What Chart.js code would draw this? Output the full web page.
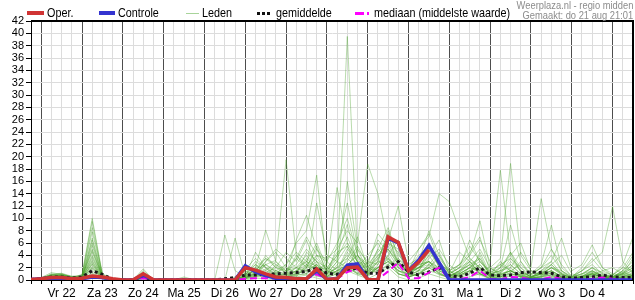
<!DOCTYPE html>
<html>
<head>
<meta charset="utf-8">
<script src="https://cdn.jsdelivr.net/npm/chart.js@4.4.1/dist/chart.umd.min.js"></script>
<style>
  html, body { margin: 0; padding: 0; background: #fff; }
  #wrap { position: relative; width: 635px; height: 300px; overflow: hidden;
          font-family: 'Liberation Sans', Arial, sans-serif; }
  #chart { position: absolute; left: 0; top: 0; }
  .lg { position: absolute; top: 6px; font-size: 13px; line-height: 14px; color: #000; white-space: nowrap;
        transform: scaleX(0.83); transform-origin: 0 50%; }
  .sw { position: absolute; }
  .info { position: absolute; right: 2px; font-size: 11px; line-height: 11px; color: #8c8c8c; white-space: nowrap;
          transform: scaleX(0.85); transform-origin: 100% 0; }
</style>
</head>
<body>
<div id="wrap">
  <canvas id="chart" width="635" height="300"></canvas>

  <!-- legenda -->
  <div class="sw" style="left:27px;top:11px;width:17px;height:4px;background:#d03434"></div>
  <div class="lg" style="left:47px">Oper.</div>
  <div class="sw" style="left:99px;top:11px;width:16px;height:4px;background:#3434d0"></div>
  <div class="lg" style="left:118px">Controle</div>
  <div class="sw" style="left:186px;top:13px;width:13px;height:1px;background:#a8d49a"></div>
  <div class="lg" style="left:202px">Leden</div>
  <div class="sw" style="left:257px;top:12px;width:14px;height:3px;background:repeating-linear-gradient(90deg,#111 0 3px,transparent 3px 5px)"></div>
  <div class="lg" style="left:276px">gemiddelde</div>
  <div class="sw" style="left:355px;top:12px;width:15px;height:3px;background:linear-gradient(90deg,#f0f 0 9px,transparent 9px 12px,#f0f 12px 14px,transparent 14px)"></div>
  <div class="lg" style="left:374px">mediaan (middelste waarde)</div>

  <div class="info" style="top:0px">Weerplaza.nl - regio midden</div>
  <div class="info" style="top:10px">Gemaakt: do 21 aug 21:01</div>
</div>

<script>
// Dagen op de x-as (label op 12:00 van elke dag)
const dagLabels = ['Vr 22', 'Za 23', 'Zo 24', 'Ma 25', 'Di 26', 'Wo 27', 'Do 28',
                   'Vr 29', 'Za 30', 'Zo 31', 'Ma 1', 'Di 2', 'Wo 3', 'Do 4'];

// Neerslag per 6 uur (mm), stap 0 = do 21 18:00
const oper = [0.1,
  0.2,0.4,0.4,0.2,  0.3,0.65,0.5,0.2,  0,0,1.0,0.05,  0,0,0,0,  0,0,0,0,
  2.0,1.6,1.0,0.5,  0.4,0.2,0.2,1.8,  0.1,0.2,2.0,2.1,  0.1,0,7.0,6.1,  1.5,2.9,4.9,null,
  null,null,null,null,  null,null,null,null,  null,null,null,null,  null,null,null,null,
  null,null,null];

const controle = [0.1,
  0.2,0.3,0.3,0.2,  0.2,0.5,0.4,0.1,  0,0,0.8,0,  0,0,0,0,  0,0,0,0,
  2.3,1.3,0.7,0.3,  0.3,0.2,0.2,1.5,  0.1,0.2,2.4,2.6,  0.1,0,6.8,6.0,  1.5,3.2,5.6,2.8,
  0,0,0,0,  0,0,0,0,  0,0,0,0,  0,0,0,0,
  0,0,0];

const gemiddelde = [0.1,
  0.2,0.5,0.5,0.3,  0.5,1.5,0.9,0.1,  0,0,0.5,0,  0,0,0.1,0,  0,0,0.2,0.4,
  0.8,0.8,0.9,1.0,  1.1,1.2,1.4,1.9,  1.1,0.9,1.6,1.9,  1.1,1.1,2.1,3.0,  1.3,0.8,1.3,2.0,
  0.7,0.5,1.1,2.0,  0.8,0.7,0.8,1.2,  1.3,1.2,1.1,0.5,  0.3,0.4,0.5,0.8,
  0.5,0.4,0.4];

const mediaan = [0,
  0.1,0.3,0.3,0.1,  0.2,0.5,0.3,0,  0,0,0.3,0,  0,0,0,0,  0,0,0,0,
  0.2,0.3,0.3,0.2,  0.1,0.1,0.2,0.9,  0.2,0.2,1.3,1.8,  0.1,0.1,1.4,2.8,  0.3,0.3,1.2,2.0,
  0.1,0.1,0.5,1.5,  0.2,0.1,0.5,0.4,  0.1,0.1,0.5,0.2,  0,0.1,0.2,0.4,
  0.2,0.1,0.1];

// Ensembleleden
const leden = [
  [0, 0.2,0.6,0.8,0.3, 0.4,4.5,0.6,0, 0,0,1.2,0, 0,0,0.3,0, 0,0,0,0, 1.2,2.5,1.0,0.8, 0.5,1.5,3.0,2.2, 1.0,3.0,39.5,4.0, 2.0,1.5,3.5,2.0, 0.5,1.0,2.5,1.0, 0.3,0.8,1.5,2.5, 0.5,0.2,0.8,1.0, 0.3,0.5,1.2,0.4, 0,0.2,0.5,0.3, 0.2,0.5,0.8],
  [0, 0.1,0.5,0.9,0.4, 0.6,7.8,0.8,0.1, 0,0,0.6,0, 0,0,0,0, 0,0,0,0, 0.5,1.8,2.5,3.2, 19.5,4.0,2.0,3.5, 1.5,0.8,2.0,1.2, 0.6,2.5,5.0,3.0, 1.2,2.0,4.0,1.5, 0.8,1.2,3.0,1.0, 0.2,0.5,2.0,0.6, 0.4,1.0,0.6,0.2, 0.1,0.3,1.0,0.5, 0.3,1.5,0.6],
  [0, 0.3,0.7,0.6,0.2, 0.3,5.6,0.4,0, 0,0,1.8,0, 0,0,0.5,0, 0,0,0,0, 2.2,1.0,0.5,1.5, 2.5,6.0,8.0,17.0, 2.0,1.2,4.5,2.5, 1.0,3.0,7.5,2.0, 0.8,1.5,5.0,2.2, 0.5,0.3,1.0,4.5, 1.0,0.5,1.2,3.0, 0.5,0.2,0.4,1.0, 0.2,0.5,1.2,0.8, 0.5,0.8,0.3],
  [0, 0,0.3,0.5,0.2, 0.2,2.8,0.3,0, 0,0,0.8,0, 0,0,0,0, 0,0,0,0, 0.8,3.0,2.0,1.5, 1.0,0.5,2.5,4.0, 3.5,5.0,8.0,6.0, 18.8,14.0,6.0,4.5, 1.0,2.5,3.0,1.5, 0.6,1.0,2.0,1.5, 2.0,0.8,1.5,0.6, 0.2,0.4,0.8,0.3, 0,0.4,1.0,0.4, 0.2,0.6,1.0],
  [0, 0.2,0.8,1.0,0.5, 0.5,6.5,0.5,0, 0,0,1.0,0, 0,0,0,0, 0,0,0,0, 0.4,1.2,4.0,2.0, 1.5,3.5,2.0,5.5, 1.0,2.0,3.0,5.5, 2.5,4.5,6.5,12.0, 3.0,5.0,7.0,14.0, 12.7,8.0,3.5,2.0, 0.8,1.5,4.5,1.2, 0.6,1.0,2.0,0.8, 0.4,0.3,0.8,1.5, 2.0,1.0,0.5],
  [0, 0.1,0.4,0.6,0.3, 0.3,3.5,0.5,0, 0,0,0.5,0, 0,0,0,0, 0,0,0,0, 0.6,0.8,1.5,3.0, 1.0,2.0,1.5,2.5, 0.5,1.5,5.0,3.0, 1.5,2.0,4.0,1.0, 0.5,1.0,2.0,3.5, 1.5,2.5,4.0,6.5, 3.0,17.8,4.0,1.5, 0.5,1.0,2.5,1.0, 0.3,0.6,1.5,0.8, 0.4,1.0,2.5],
  [0, 0.2,0.5,0.8,0.6, 0.8,9.5,0.7,0, 0,0,1.5,0, 0,0,0,0, 0,0,0,0, 0.2,2.0,1.0,0.8, 0.4,1.0,4.5,3.0, 2.0,4.0,6.0,3.5, 1.0,3.0,8.0,4.0, 2.5,3.5,6.0,3.0, 1.0,2.0,3.0,5.0, 2.0,3.5,18.9,4.0, 1.5,0.8,1.5,0.6, 0.2,0.5,1.0,0.4, 0.5,0.3,0.8],
  [0, 0.3,0.6,0.5,0.3, 0.2,2.0,0.3,0, 0,0,0.4,0, 0,0,0,0, 0,0,0,0, 1.5,0.8,2.5,1.2, 0.8,2.0,3.0,1.5, 0.5,2.5,3.5,2.0, 4.0,6.0,3.0,1.5, 1.0,2.0,4.5,2.5, 0.5,1.5,2.5,3.5, 1.0,1.5,2.0,4.5, 2.0,13.2,5.0,1.5, 0.5,1.0,2.0,1.2, 0.8,2.0,1.5],
  [0, 0.1,0.3,0.4,0.2, 0.4,4.0,0.6,0, 0,0,0.9,0, 0,0,0,0, 0,0,0,0, 0.3,0.6,1.8,1.0, 2.5,4.5,3.0,6.0, 2.0,1.0,2.5,4.0, 1.2,3.5,5.0,2.5, 0.8,1.5,3.5,5.0, 2.5,1.0,2.0,3.0, 1.2,2.5,3.5,1.5, 0.5,1.5,3.0,1.0, 0.4,1.5,3.0,4.5, 11.9,3.0,1.0],
  [0, 0.2,0.5,0.7,0.3, 0.5,3.0,0.4,0, 0,0,0.7,0, 0,0,0,0, 0,0,7.3,1.5, 0.5,4.5,2.0,1.0, 0.8,1.5,2.0,5.0, 1.5,3.5,7.0,3.0, 0.8,2.0,3.0,1.5, 1.0,2.5,3.0,1.2, 0.3,0.8,1.5,2.0, 0.5,1.0,1.5,0.8, 0.3,0.6,1.2,0.5, 0.1,0.4,0.8,0.3, 0.2,0.5,0.4],
  [0, 0.3,0.8,0.9,0.4, 0.3,6.0,0.6,0, 0,0,0.5,0, 0,0,0.2,0, 0,0,0,6.8, 0.6,2.0,3.5,2.0, 1.2,0.8,1.0,4.0, 3.0,6.0,10.0,4.0, 2.0,1.0,2.5,3.5, 2.0,1.5,4.0,6.5, 1.5,0.5,2.0,3.5, 0.6,1.2,2.5,1.0, 0.8,2.0,4.0,1.5, 0.2,0.6,1.5,0.6, 0.3,1.0,2.0],
  [0, 0.2,0.4,0.3,0.1, 0.2,1.5,0.2,0, 0,0,0.3,0, 0,0,0,0, 0,0,0,0.5, 1.0,2.0,8.1,3.0, 1.5,2.5,5.0,3.0, 1.0,3.0,5.5,2.0, 1.5,4.0,5.0,2.5, 1.5,2.0,3.0,2.0, 1.0,2.0,4.0,9.6, 2.0,1.0,1.5,0.8, 0.4,1.0,2.0,1.2, 0.5,1.0,2.0,0.5, 0.5,1.5,3.0],
  [0, 0.1,0.2,0.4,0.2, 0.3,2.5,0.2,0, 0,0,0.6,0, 0,0,0,0, 0,0,0,0, 0.2,1.0,0.5,2.5, 1.0,4.0,2.5,1.0, 0.8,2.0,4.0,2.5, 2.0,5.0,3.5,1.0, 0.5,1.2,2.0,4.0, 1.5,0.5,1.5,2.5, 0.5,2.0,8.9,3.0, 1.0,2.5,8.9,2.0, 0.6,1.5,2.5,1.0, 0.5,1.2,0.6],
  [0, 0.2,0.6,0.5,0.2, 0.1,1.8,0.3,0, 0,0,0.2,0, 0,0,0,0, 0,0,0,0, 0.7,1.5,1.0,0.6, 0.5,1.2,3.5,2.0, 0.6,1.5,2.5,1.0, 3.0,2.5,6.0,3.0, 1.0,2.0,2.5,1.5, 0.8,1.5,3.0,2.0, 0.4,0.8,1.5,2.5, 1.0,2.0,3.0,6.8, 1.5,2.5,5.7,2.0, 0.6,1.2,2.5],
  [0, 0.1,0.3,0.5,0.2, 0.1,1.2,0.2,0, 0,0,0.2,0, 0,0,0,0, 0,0,0,0, 0,0.3,0.2,0, 0.1,0.5,0.8,0.3, 0,0.6,1.5,0.8, 0.2,1.0,2.0,0.5, 0,0.3,1.0,0.5, 0,0.2,0.5,1.0, 0.2,0.3,0.6,0.2, 0,0.2,0.5,0.2, 0,0.1,0.3,0.1, 0,0.2,0.4],
  [0, 0.4,1.2,0.9,0.5, 0.7,8.5,1.0,0.2, 0,0,1.2,0, 0,0,0,0, 0,0,0,0, 0.3,0.8,0.6,1.2, 2.0,1.0,1.5,2.5, 0.8,5.5,12.5,4.0, 2.5,1.5,4.0,6.5, 2.0,4.0,5.5,2.0, 0.6,1.2,2.5,1.5, 0.8,3.0,1.5,0.6, 0.2,0.8,1.5,0.5, 0.3,0.8,2.0,1.0, 0.5,1.5,4.0],
  [0, 0.2,0.5,0.6,0.2, 0.3,2.2,0.4,0, 0,0,0.4,0, 0,0,0,0, 0,0,0,0, 0.4,1.0,3.0,5.0, 3.5,2.0,1.0,2.5, 1.5,1.0,2.0,1.0, 0.5,2.0,3.0,1.5, 0.8,3.0,8.0,4.0, 1.0,2.5,5.5,3.0, 1.0,1.5,2.5,1.0, 0.6,1.2,2.5,0.8, 0.5,2.0,4.5,2.0, 1.0,0.8,1.5],
  [0, 0.3,0.9,1.1,0.6, 0.5,5.0,0.6,0, 0,0,0.3,0, 0,0,0,0, 0,0,0,0, 1.8,3.5,2.0,0.5, 0.3,0.8,2.0,12.5, 4.0,3.0,2.0,5.0, 3.0,6.5,4.5,2.0, 1.5,2.0,3.0,1.0, 0.4,1.0,2.0,1.2, 0.8,2.0,4.0,6.0, 1.5,0.8,2.0,1.0, 0.2,0.6,1.2,0.5, 0.8,2.5,7.0],
  [0, 0.1,0.4,0.5,0.3, 0.4,3.2,0.3,0, 0,0,0.6,0, 0,0,0,0, 0,0,0,0, 0.5,0.6,1.2,2.0, 4.5,3.0,6.5,2.0, 1.0,2.0,16.0,5.0, 1.5,3.0,2.5,1.0, 0.5,1.0,2.0,0.8, 0.5,1.5,3.5,2.0, 1.0,0.5,1.0,0.5, 0.3,1.5,2.5,4.0, 1.0,0.5,1.0,0.4, 0.3,0.5,1.0],
  [0, 0.2,0.6,0.8,0.4, 0.6,4.8,0.5,0, 0,0,1.0,0, 0,0,0,0, 0,0,0,0, 0.8,2.5,1.5,0.8, 0.6,1.5,2.5,1.8, 2.5,15.0,6.0,3.0, 2.0,3.5,7.0,3.0, 1.0,0.8,2.5,4.5, 1.0,2.0,6.5,3.0, 1.5,2.5,1.5,0.5, 0.4,1.0,2.0,1.5, 0.5,1.0,1.5,0.6, 0.3,0.6,1.2],
  [0, 0.2,0.7,0.6,0.2, 0.2,1.0,0.2,0, 0,0,0.5,0, 0,0,0,0, 0,0,0,0, 0.2,0.5,1.0,0.8, 0.5,1.0,1.5,0.8, 0.6,1.5,2.0,1.0, 0.8,2.0,3.5,1.5, 0.5,1.0,1.5,1.0, 0.3,0.6,1.2,0.8, 0.2,0.5,1.0,0.5, 0.2,0.5,1.0,0.3, 0.1,0.3,0.6,0.2, 0.2,0.4,0.6],
  [0, 0.3,1.0,0.7,0.3, 0.9,10.0,0.9,0.1, 0,0,0.8,0, 0,0,0,0, 0,0,0,0, 1.0,1.5,0.8,1.0, 0.8,3.5,7.0,4.0, 1.5,4.0,9.0,2.5, 1.0,5.0,8.5,3.5, 1.2,2.5,6.0,2.0, 0.8,1.0,2.0,4.0, 0.6,1.0,3.0,1.5, 0.5,1.0,1.5,0.6, 0.3,0.6,1.0,0.5, 0.6,1.0,2.0],
  [0, 0.1,0.3,0.3,0.1, 0.3,2.0,0.3,0, 0,0,0.2,0, 0,0,0,0, 0,0,0,0.3, 0.3,1.2,2.5,1.5, 0.8,6.5,10.5,5.0, 3.0,1.5,2.5,4.0, 1.0,2.0,3.0,2.5, 1.5,5.0,7.5,3.0, 1.2,4.5,3.0,1.0, 0.4,0.8,1.5,0.8, 0.4,1.5,1.0,0.4, 0.1,0.5,1.0,0.5, 0.2,0.8,1.6],
  [0, 0.2,0.5,0.7,0.3, 0.4,3.8,0.4,0, 0,0,1.1,0, 0,0,0,0, 0,0,0,0, 0.6,1.0,3.0,4.5, 2.0,1.2,1.8,3.0, 0.5,1.0,3.5,7.0, 2.0,4.0,6.0,5.0, 0.8,2.0,3.0,1.8, 0.6,1.5,2.5,1.0, 0.6,1.2,3.5,2.0, 0.3,0.6,1.5,0.5, 0.2,0.6,1.4,0.6, 0.4,1.0,3.5],
  [0, 0.3,0.8,0.7,0.3, 0.3,2.6,0.4,0, 0,0,0.4,0, 0,0,0,0, 0,0,0,0, 0.2,0.5,0.6,0.4, 0.3,0.8,1.0,0.6, 0.4,1.0,2.5,1.5, 1.0,1.5,2.5,1.0, 0.6,1.5,2.0,1.2, 0.4,0.8,1.5,1.0, 0.3,0.6,1.2,0.4, 0.2,0.5,0.8,0.3, 0.1,0.3,0.6,0.3, 0.2,0.4,0.5],
  [0, 0.2,0.9,1.0,0.5, 0.4,6.8,0.7,0, 0,0,0.7,0, 0,0,0,0, 0,0,0,0, 0.8,1.5,3.5,2.5, 1.5,2.0,4.0,2.0, 1.8,4.5,5.5,3.0, 2.5,7.5,5.5,3.0, 1.0,3.0,5.0,2.5, 1.5,2.5,4.5,7.0, 1.2,2.0,4.5,2.0, 0.8,2.0,5.0,2.5, 0.6,1.5,3.5,1.5, 0.8,2.0,4.5]
];

Chart.defaults.font.family = "'Liberation Sans', Arial, sans-serif";
Chart.defaults.color = '#000';

// Zet een lijst waarden om naar punten op de tijd-as
function punten(values) {
    return values.map((v, i) => ({ x: i, y: v }));
}

// Zwarte rand boven en rechts van het plotgebied
const kader = {
    id: 'kader',
    afterDatasetsDraw(chart) {
        const { ctx, chartArea: a } = chart;
        ctx.save();
        ctx.strokeStyle = '#000';
        ctx.lineWidth = 2;
        ctx.beginPath();
        ctx.moveTo(a.left, a.top);
        ctx.lineTo(a.right, a.top);
        ctx.lineTo(a.right, a.bottom);
        ctx.stroke();
        ctx.restore();
    }
};

const datasets = [
    { data: punten(oper), borderColor: '#d03434', borderWidth: 3.5 },
    { data: punten(controle), borderColor: '#3434d0', borderWidth: 3.5 },
    { data: punten(mediaan), borderColor: '#f000f0', borderWidth: 2, borderDash: [7, 4] },
    { data: punten(gemiddelde), borderColor: '#1a1a1a', borderWidth: 3, borderDash: [3, 3] }
];
leden.forEach(lid => {
    datasets.push({ data: punten(lid), borderColor: 'rgba(70,160,40,0.38)', borderWidth: 1 });
});

new Chart(document.getElementById('chart'), {
    type: 'line',
    data: { datasets: datasets },
    plugins: [kader],
    options: {
        responsive: false,
        animation: false,
        devicePixelRatio: 1,
        layout: { padding: { top: 21, right: 1, left: 0, bottom: 0 } },
        elements: {
            point: { radius: 0 },
            line: { tension: 0, fill: false, borderCapStyle: 'butt' }
        },
        plugins: {
            legend: { display: false },
            tooltip: { enabled: false }
        },
        scales: {
            x: {
                type: 'linear',
                min: 0,
                max: 59,
                afterBuildTicks: scale => {
                    const t = [];
                    for (let i = 0; i <= 59; i++) t.push({ value: i });
                    scale.ticks = t;
                },
                afterFit: scale => { scale.height = 20; },
                ticks: {
                    autoSkip: false,
                    maxRotation: 0,
                    padding: 2,
                    font: { size: 12 },
                    color: '#000',
                    callback: value => {
                        const k = (value - 3) / 4;
                        return Number.isInteger(k) && k < dagLabels.length ? dagLabels[k] : '';
                    }
                },
                grid: {
                    color: ctx => (ctx.tick && (ctx.tick.value - 1) % 4 === 0) ? '#4d4d4d' : '#dcdcdc',
                    lineWidth: 1,
                    tickLength: 4,
                    tickColor: '#000'
                },
                border: { color: '#000', width: 1 }
            },
            y: {
                min: 0,
                max: 42,
                afterFit: scale => { scale.width = 31; },
                ticks: { stepSize: 2, autoSkip: false, padding: 2, font: { size: 11, lineHeight: 1 }, color: '#000' },
                grid: { color: '#dcdcdc', lineWidth: 1, tickLength: 5, tickColor: '#000' },
                border: { color: '#000', width: 1 }
            }
        }
    }
});
</script>
</body>
</html>
